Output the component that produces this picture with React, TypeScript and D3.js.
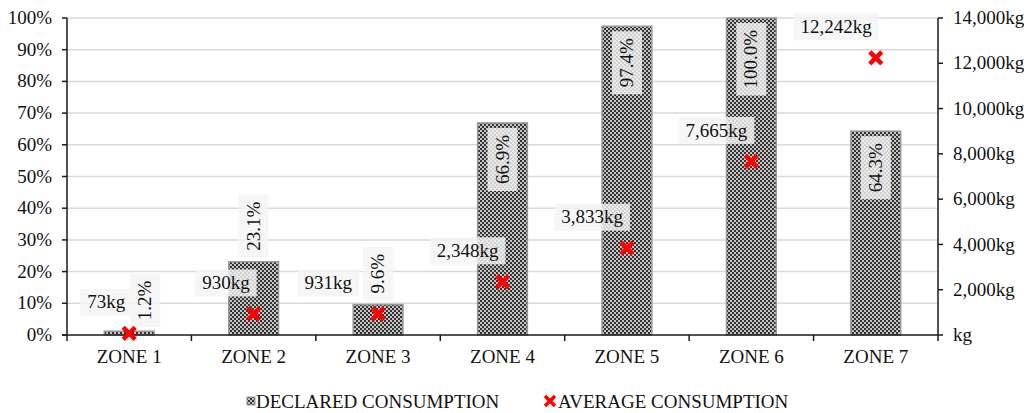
import React from 'react';
import * as d3 from 'd3';

const zones = ['ZONE 1', 'ZONE 2', 'ZONE 3', 'ZONE 4', 'ZONE 5', 'ZONE 6', 'ZONE 7'];
const declaredPct = [1.2, 23.1, 9.6, 66.9, 97.4, 100.0, 64.3];
const averageKg = [73, 930, 931, 2348, 3833, 7665, 12242];
const pctTicks = [0, 10, 20, 30, 40, 50, 60, 70, 80, 90, 100];
const kgTicks = [0, 2000, 4000, 6000, 8000, 10000, 12000, 14000];
const legendLabels = ['DECLARED CONSUMPTION', 'AVERAGE CONSUMPTION'];

const FONT = 'Liberation Serif';
const fontSize = 19;
const width = 1024;
const height = 413;
const margin = { top: 18, right: 86, bottom: 78, left: 67 };
const axisColor = '#1a1a1a';
const textColor = '#111';

// Times-style advance widths for the characters used in data labels
const charW: Record<string, number> = { ',': 0.25, '.': 0.25, '%': 0.833, k: 0.5, g: 0.5 };
const textWidth = (s: string) => s.split('').reduce((a, c) => a + (charW[c] ?? 0.5), 0) * fontSize;

const x = d3
  .scaleBand()
  .domain(zones)
  .range([margin.left, width - margin.right])
  .paddingInner(0.6)
  .paddingOuter(0.3);
const xOuter = d3.scaleBand().domain(zones).range([margin.left, width - margin.right]);
const yPct = d3.scaleLinear().domain([0, 100]).range([height - margin.bottom, margin.top]);
const yKg = d3.scaleLinear().domain([0, 14000]).range([height - margin.bottom, margin.top]);
const fmt = d3.format(',');

const pctNudge = (i: number) => (i === 0 ? 16 : 0);
const kgNudge = (i: number) => (i === 2 ? -22 : 0);

const Cross: React.FC<{ cx: number; cy: number; r: number; w: number }> = ({ cx, cy, r, w }) => (
  <path
    transform={`translate(${cx},${cy})`}
    d={`M${-r},${-r}L${r},${r}M${-r},${r}L${r},${-r}`}
    stroke="#ff0000"
    strokeWidth={w}
  />
);

const App: React.FC = () => {
  const cxOf = (i: number) => (x(zones[i]) || 0) + x.bandwidth() / 2;
  const bg = { fill: '#f4f4f4', opacity: 0.82 };
  const padX = 7;
  const boxH = 27;

  return (
    <svg
      width={width}
      height={height}
      style={{ position: 'absolute', left: 0, top: 0, background: '#fff' }}
      fontFamily={FONT}
      fontSize={fontSize}
    >
      <defs>
        <pattern id="checker" width={4} height={4} patternUnits="userSpaceOnUse">
          <rect width={4} height={4} fill="#c4c4c4" />
          <rect width={2} height={2} fill="#333" />
          <rect x={2} y={2} width={2} height={2} fill="#333" />
        </pattern>
      </defs>

      {/* gridlines */}
      {pctTicks.slice(1).map((t) => (
        <line
          key={t}
          x1={margin.left}
          x2={width - margin.right}
          y1={yPct(t)}
          y2={yPct(t)}
          stroke="#d9d9d9"
          strokeWidth={1.5}
        />
      ))}

      {/* bars */}
      {declaredPct.map((v, i) => (
        <rect
          key={zones[i]}
          x={x(zones[i])}
          y={yPct(v)}
          width={x.bandwidth()}
          height={yPct(0) - yPct(v)}
          fill="url(#checker)"
          stroke="#999"
          strokeWidth={1.5}
        />
      ))}

      {/* left axis */}
      <g>
        <line x1={margin.left} x2={margin.left} y1={margin.top} y2={yPct(0)} stroke={axisColor} strokeWidth={1.5} />
        {pctTicks.map((t) => (
          <g key={t} transform={`translate(${margin.left},${yPct(t)})`}>
            <line x1={-5} x2={0} stroke={axisColor} strokeWidth={1.5} />
            <text x={-15} dy="0.32em" textAnchor="end" fill={textColor}>
              {`${t}%`}
            </text>
          </g>
        ))}
      </g>

      {/* right axis */}
      <g>
        <line
          x1={width - margin.right}
          x2={width - margin.right}
          y1={margin.top}
          y2={yKg(0)}
          stroke={axisColor}
          strokeWidth={1.5}
        />
        {kgTicks.map((t) => (
          <g key={t} transform={`translate(${width - margin.right},${yKg(t)})`}>
            <line x1={0} x2={5} stroke={axisColor} strokeWidth={1.5} />
            <text x={15} dy="0.32em" fill={textColor}>
              {t === 0 ? 'kg' : `${fmt(t)}kg`}
            </text>
          </g>
        ))}
      </g>

      {/* bottom axis */}
      <g transform={`translate(0,${yPct(0)})`}>
        <line x1={margin.left - 5} x2={width - margin.right} stroke={axisColor} strokeWidth={1.5} />
        {zones.map((z) => (
          <line key={z} x1={xOuter(z)} x2={xOuter(z)} y2={6} stroke={axisColor} strokeWidth={1.5} />
        ))}
        <line x1={width - margin.right} x2={width - margin.right} y2={6} stroke={axisColor} strokeWidth={1.5} />
        {zones.map((z) => (
          <text key={z} x={(xOuter(z) || 0) + xOuter.bandwidth() / 2} y={28} textAnchor="middle" fill={textColor}>
            {z}
          </text>
        ))}
      </g>

      {/* percentage labels */}
      {declaredPct.map((v, i) => {
        const label = `${v.toFixed(1)}%`;
        const w = textWidth(label);
        const inside = v > 50;
        const yy = inside ? yPct(v) + 12 : yPct(v) - 11;
        // rotated frame: text runs along +x (upwards on screen)
        const x0 = inside ? -w : 0;
        return (
          <g key={zones[i]} transform={`translate(${cxOf(i) + pctNudge(i)},${yy}) rotate(-90)`}>
            <rect x={x0 - padX} y={-15} width={w + 2 * padX} height={30} {...bg} />
            <text x={x0} dy="0.32em" fill={textColor}>
              {label}
            </text>
          </g>
        );
      })}

      {/* average markers and labels */}
      {averageKg.map((v, i) => {
        const cx = cxOf(i);
        const cy = yKg(v);
        const label = `${fmt(v)}kg`;
        const w = textWidth(label);
        return (
          <g key={zones[i]}>
            <Cross cx={cx} cy={cy} r={6} w={4.5} />
            <g transform={`translate(${cx - 4 + kgNudge(i)},${cy - 31})`}>
              <rect x={-w - padX} y={-boxH / 2} width={w + 2 * padX} height={boxH} {...bg} />
              <text textAnchor="end" dy="0.32em" fill={textColor}>
                {label}
              </text>
            </g>
          </g>
        );
      })}

      {/* legend */}
      <g transform={`translate(0,${height - 5})`}>
        <rect x={247} y={-11} width={8} height={8} fill="url(#checker)" stroke="#999" />
        <Cross cx={550} cy={-7} r={5} w={3.5} />
        {legendLabels.map((l, i) => (
          <text key={l} x={i === 0 ? 256 : 558} fill={textColor}>
            {l}
          </text>
        ))}
      </g>
    </svg>
  );
};

export default App;
